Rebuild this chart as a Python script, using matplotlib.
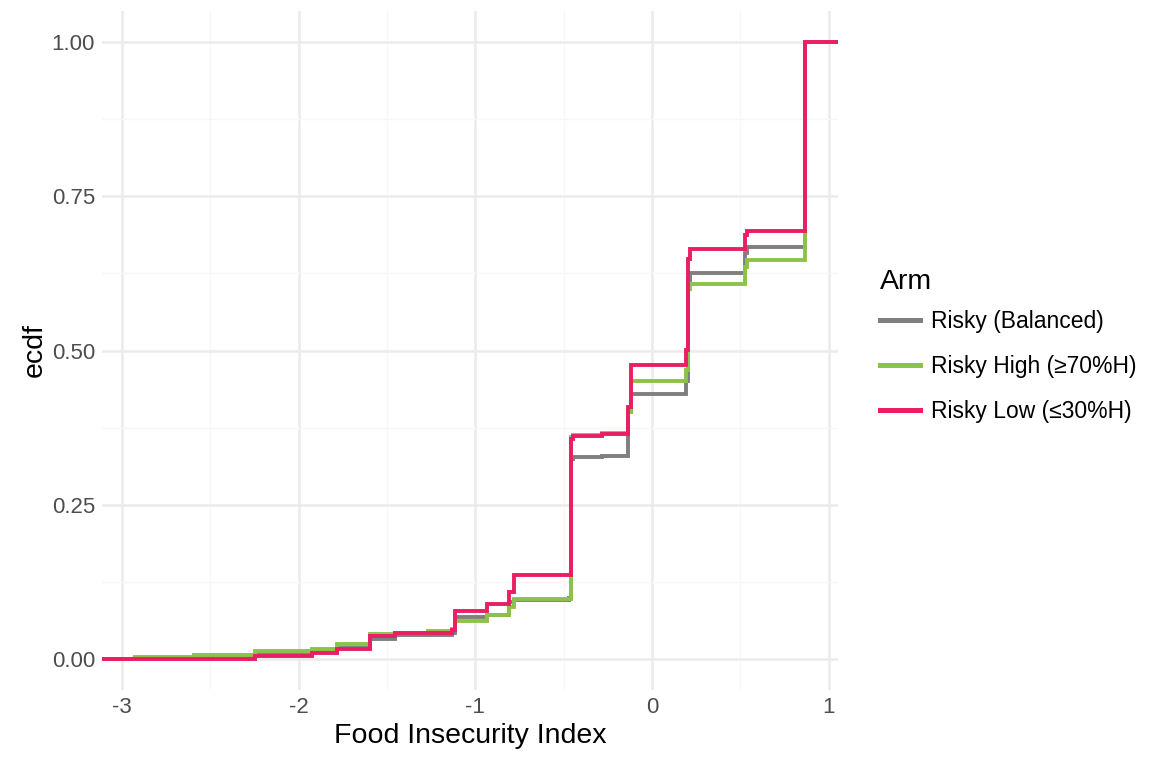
import numpy as np
import matplotlib
matplotlib.use("Agg")
import matplotlib.pyplot as plt
from matplotlib.ticker import MultipleLocator

plt.rcParams["font.family"] = ["Liberation Sans", "DejaVu Sans"]
plt.rcParams["axes.unicode_minus"] = False

# ecdf steps: x of each jump, ecdf value after the jump
arms = ["Risky (Balanced)", "Risky High (\u226570%H)", "Risky Low (\u226430%H)"]
colors = ["#7F7F7F", "#8BC34A", "#E91E63"]

balanced_x = [-2.923, -2.591, -2.248, -1.921, -1.781, -1.595, -1.454, -1.269,
              -1.134, -1.117, -0.931, -0.807, -0.780, -0.470, -0.459, -0.447,
              -0.280, -0.138, -0.121, 0.194, 0.205, 0.217, 0.526, 0.537, 0.864]
balanced_y = [0.001, 0.003, 0.008, 0.012, 0.018, 0.032, 0.039, 0.0395,
              0.042, 0.0686, 0.071, 0.093, 0.095, 0.099, 0.325, 0.327,
              0.3295, 0.40, 0.4295, 0.45, 0.615, 0.626, 0.658, 0.668, 1.0]

high_x = [-2.923, -2.591, -2.248, -1.921, -1.781, -1.595, -1.454, -1.269,
          -1.134, -1.117, -0.931, -0.807, -0.780, -0.459, -0.447, -0.280,
          -0.138, -0.121, 0.194, 0.205, 0.217, 0.526, 0.537, 0.864]
high_y = [0.003, 0.006, 0.013, 0.0157, 0.024, 0.0405, 0.043, 0.046,
          0.048, 0.061, 0.071, 0.085, 0.098, 0.360, 0.363, 0.366,
          0.40, 0.451, 0.468, 0.600, 0.607, 0.636, 0.647, 1.0]

low_x = [-2.248, -1.921, -1.781, -1.595, -1.454, -1.269, -1.134, -1.117,
         -0.931, -0.807, -0.780, -0.459, -0.447, -0.280, -0.138, -0.121,
         0.194, 0.205, 0.217, 0.526, 0.537, 0.864]
low_y = [0.0055, 0.010, 0.016, 0.037, 0.0415, 0.043, 0.047, 0.078,
         0.089, 0.108, 0.136, 0.356, 0.361, 0.364, 0.409, 0.477,
         0.501, 0.648, 0.664, 0.687, 0.694, 1.0]

series = [(balanced_x, balanced_y), (high_x, high_y), (low_x, low_y)]

x_ticks = [-3, -2, -1, 0, 1]
y_ticks = [0.0, 0.25, 0.5, 0.75, 1.0]
y_labels = ["0.00", "0.25", "0.50", "0.75", "1.00"]

fig = plt.figure(figsize=(11.52, 7.68), dpi=100)
ax = fig.add_axes([0.0885, 0.1016, 0.639, 0.884])

# ggplot-style 5% expansion
all_x = balanced_x + high_x + low_x
lo, hi = min(all_x), max(all_x)
pad = 0.05 * (hi - lo)
xmin, xmax = lo - pad, hi + pad
ax.set_xlim(xmin, xmax)
ax.set_ylim(-0.05, 1.05)

for (xs, ys), c, lab in zip(series, colors, arms):
    px = [xmin] + list(xs) + [xmax]
    py = [0.0] + list(ys) + [1.0]
    ax.step(px, py, where="post", color=c, lw=2.8, label=lab,
            solid_joinstyle="miter", zorder=3)

# theme_minimal look
for s in ax.spines.values():
    s.set_visible(False)
ax.set_xticks(x_ticks)
ax.set_yticks(y_ticks)
ax.set_yticklabels(y_labels)
ax.xaxis.set_minor_locator(MultipleLocator(0.5))
ax.yaxis.set_minor_locator(MultipleLocator(0.125))
ax.grid(which="major", color="#EBEBEB", lw=1.8, zorder=0)
ax.grid(which="minor", color="#F7F7F7", lw=0.9, zorder=0)
ax.tick_params(which="both", length=0, labelsize=16, labelcolor="#4D4D4D", pad=5)
ax.set_axisbelow(True)

ax.set_xlabel("Food Insecurity Index", fontsize=20.5, labelpad=4)
ax.set_ylabel("ecdf", fontsize=20.5, labelpad=3)

leg = ax.legend(title="Arm", loc="center left", bbox_to_anchor=(1.045, 0.506),
                frameon=False, fontsize=16.5, title_fontsize=20.5,
                handlelength=1.75, handletextpad=0.45, labelspacing=0.97,
                borderaxespad=0)
leg._legend_box.align = "left"
leg._legend_box.sep = 10.4  # tighter gap under the title
for h in leg.get_lines():
    h.set_linewidth(3.6)

fig.savefig("out.png", dpi=100)
